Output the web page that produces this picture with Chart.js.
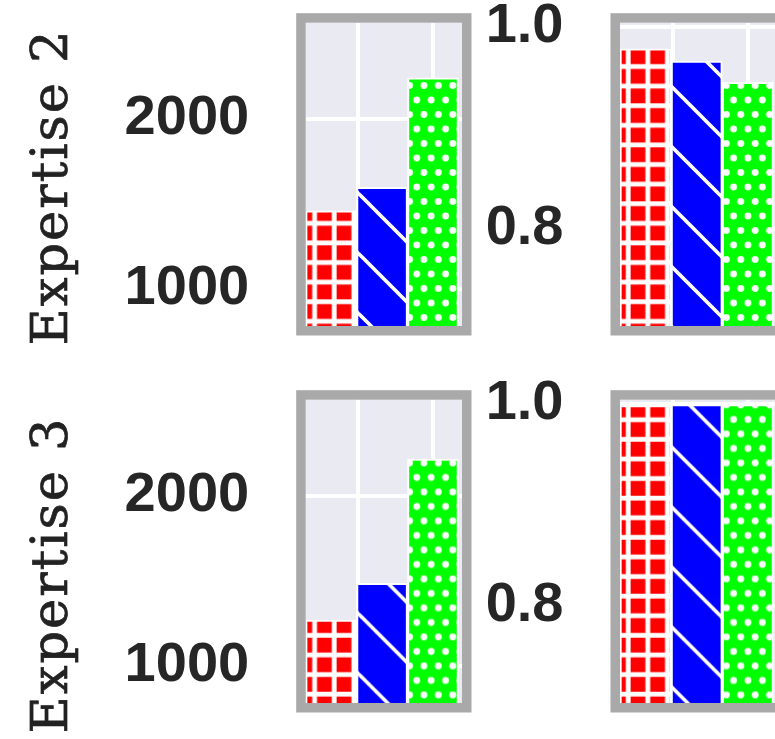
<!DOCTYPE html>
<html>
<head>
<meta charset="utf-8">
<script src="https://cdn.jsdelivr.net/npm/chart.js@4.4.1/dist/chart.umd.min.js"></script>
<style>
  html, body { margin: 0; padding: 0; background: #fff; }
  body { width: 775px; height: 739px; position: relative; overflow: hidden; }
  canvas { position: absolute; }
  .rowlabel {
    position: absolute;
    font-family: "DejaVu Serif", serif;
    font-size: 51px;
    line-height: 51px;
    letter-spacing: 2px;
    color: #222222;
    -webkit-text-stroke: 0.7px #222222;
    white-space: nowrap;
    transform: translate(-50%, -50%) rotate(-90deg);
  }
</style>
</head>
<body>
<div class="rowlabel" style="left:49px; top:186.7px">Expertise 2</div>
<div class="rowlabel" style="left:49px; top:575px">Expertise 3</div>
<canvas id="tl" width="480" height="345" style="left:0px; top:0px"></canvas>
<canvas id="bl" width="480" height="345" style="left:0px; top:376.6px"></canvas>
<canvas id="tr" width="320" height="345" style="left:480px; top:0px"></canvas>
<canvas id="br" width="320" height="345" style="left:480px; top:376.6px"></canvas>
<script>
// values (three bars per panel: red grid, blue hatch, green dots)
const rowLabels = ['Expertise 2', 'Expertise 3'];
const timeExp2 = [1458, 1597, 2240];
const timeExp3 = [1269, 1485, 2215];
const scoreExp2 = [0.978, 0.966, 0.945];
const scoreExp3 = [0.998, 0.999, 0.999];
const timeTicks = [1000, 2000];
const scoreTicks = [0.8, 1.0];
const xGridTicks = [0.53, 2];

const tickFont = { family: '"Liberation Sans", Arial, sans-serif', size: 56, weight: 'bold' };

// hatch fills, phased to page coordinates so they line up across panels
function makePatterns(ctx, offX, offY) {
  const red = document.createElement('canvas');
  red.width = 98; red.height = 98;
  let c = red.getContext('2d');
  c.fillStyle = '#ff0000';
  c.fillRect(0, 0, 98, 98);
  c.fillStyle = '#ffffff';
  for (let k = 0; k <= 5; k++) {
    const p = k * 19.6;
    c.fillRect(p - 2.4, 0, 4.8, 98);
    c.fillRect(0, p - 2.4, 98, 4.8);
  }
  const blue = document.createElement('canvas');
  blue.width = 60; blue.height = 60;
  c = blue.getContext('2d');
  c.fillStyle = '#0000ff';
  c.fillRect(0, 0, 60, 60);
  c.strokeStyle = '#ffffff';
  c.lineWidth = 3.7;
  [-60, 0, 60].forEach(s => {
    c.beginPath();
    c.moveTo(-10, -10 + s);
    c.lineTo(70, 70 + s);
    c.stroke();
  });
  const green = document.createElement('canvas');
  green.width = 72; green.height = 29;
  c = green.getContext('2d');
  c.fillStyle = '#00ff00';
  c.fillRect(0, 0, 72, 29);
  c.fillStyle = '#ffffff';
  for (let k = -1; k <= 5; k++) {
    [[14.4 * k, 0], [14.4 * k, 29], [14.4 * k + 7.2, 14.5]].forEach(([x, y]) => {
      c.beginPath();
      c.arc(x, y, 3.4, 0, Math.PI * 2);
      c.fill();
    });
  }
  const pr = ctx.createPattern(red, 'repeat');
  pr.setTransform(new DOMMatrix([1, 0, 0, 1, 314.6 - offX, 223.3 - offY]));
  const pb = ctx.createPattern(blue, 'repeat');
  pb.setTransform(new DOMMatrix([1, 0, 0, 1, -offX, 15 - offY]));
  const pg = ctx.createPattern(green, 'repeat');
  pg.setTransform(new DOMMatrix([1, 0, 0, 1, 416.7 - offX, 100 - offY]));
  return [pr, pb, pg];
}

const panelLook = {
  id: 'panelLook',
  beforeDraw(chart) {
    const { ctx, chartArea: a } = chart;
    ctx.save();
    ctx.fillStyle = '#eaeaf2';
    ctx.fillRect(a.left, a.top, a.right - a.left, a.bottom - a.top);
    ctx.restore();
  },
  afterDatasetsDraw(chart) {
    const { ctx, chartArea: a } = chart;
    ctx.save();
    ctx.strokeStyle = '#a9a9a9';
    ctx.lineWidth = 9.5;
    ctx.strokeRect(a.left - 4.75, a.top - 4.75, a.right - a.left + 9.5, a.bottom - a.top + 9.5);
    ctx.restore();
  }
};

function drawPanel(id, left, top, values, yMin, yMax, yTicks, fmt, axisWidth, padRight) {
  const el = document.getElementById(id);
  const ctx = el.getContext('2d');
  new Chart(ctx, {
    type: 'bar',
    data: {
      datasets: [{
        data: values.map((v, i) => ({ x: i, y: v })),
        backgroundColor: makePatterns(ctx, left, top),
        borderColor: '#ffffff',
        borderWidth: 2,
        borderSkipped: 'start',
        barPercentage: 1,
        categoryPercentage: 1
      }]
    },
    options: {
      responsive: false,
      animation: false,
      devicePixelRatio: 1,
      layout: { padding: { left: 0, top: 22.7, right: padRight, bottom: 19 } },
      plugins: { legend: { display: false }, tooltip: { enabled: false } },
      scales: {
        x: {
          type: 'linear',
          min: -0.5,
          max: 2.57,
          offset: false,
          grid: { color: '#ffffff', lineWidth: 4, drawTicks: false, offset: false },
          border: { display: false },
          ticks: { display: false },
          afterBuildTicks: s => { s.ticks = xGridTicks.map(v => ({ value: v })); },
          afterFit: s => { s.height = 0; s.paddingLeft = 0; s.paddingRight = 0; }
        },
        y: {
          type: 'linear',
          min: yMin,
          max: yMax,
          beginAtZero: false,
          grid: { color: '#ffffff', lineWidth: 4, drawTicks: false },
          border: { display: false },
          ticks: { padding: 56.5, color: '#262626', font: tickFont, callback: fmt },
          afterBuildTicks: s => { s.ticks = yTicks.map(v => ({ value: v })); },
          afterFit: s => { s.width = axisWidth; s.paddingTop = 0; s.paddingBottom = 0; }
        }
      }
    },
    plugins: [panelLook]
  });
}

const fmtTime = v => v.toFixed(0);
const fmtScore = v => v.toFixed(1);

drawPanel('tl', 0, 0, timeExp2, 781, 2565, timeTicks, fmtTime, 305.7, 18);
drawPanel('bl', 0, 376.6, timeExp3, 781, 2565, timeTicks, fmtTime, 305.7, 18);
drawPanel('tr', 480, 0, scoreExp2, 0.7042, 1.0038, scoreTicks, fmtScore, 140, 23);
drawPanel('br', 480, 376.6, scoreExp3, 0.7042, 1.0038, scoreTicks, fmtScore, 140, 23);
</script>
</body>
</html>
